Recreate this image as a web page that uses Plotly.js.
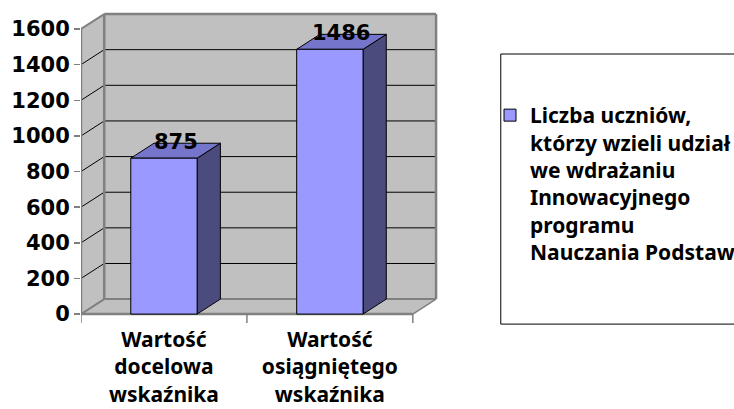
<!DOCTYPE html>
<html>
<head>
<meta charset="utf-8">
<script src="https://cdn.plot.ly/plotly-3.0.1.min.js"></script>
<style>html,body{margin:0;padding:0;background:#fff}#chart{width:734px;height:409px}</style>
</head>
<body>
<div id="chart"></div>
<script>
// ---- data ----
const categories = ['Wartość<br>docelowa<br>wskaźnika', 'Wartość<br>osiągniętego<br>wskaźnika'];
const values = [875, 1486];
const seriesName = 'Liczba uczniów,<br>którzy wzieli udział<br>we wdrażaniu<br>Innowacyjnego<br>programu<br>Nauczania Podstaw';
const yTickVals = [0, 200, 400, 600, 800, 1000, 1200, 1400, 1600];

// ---- geometry / style ----
const NUMFONT = 'DejaVu Sans, sans-serif';
const TXTFONT = 'Noto Sans, Open Sans, sans-serif';
const W = 734, H = 409;
const L = 81, T = 10;
const XR = [-0.5, 1.7];
const PX_X = 166;            // px per category unit
const PX_Y = 285 / 1600;     // px per value unit
const YR = [-50, (314 - T) / PX_Y];
const plotW = (XR[1] - XR[0]) * PX_X;
const plotH = (YR[1] - YR[0]) * PX_Y;
const R = W - L - plotW;
const B = H - T - plotH;
const DX = 0.14, DY = 84;    // depth offset
const YMAX = yTickVals[yTickVals.length - 1];
const BW = 0.4;
const WALL = '#c0c0c0', EDGE = '#808080';
const xs = values.map((v, i) => i);
const x0 = XR[0], x1 = xs.length - 0.5;

const shapes = [];
const poly = (pts, fill, lineColor, lw) => shapes.push({
  type: 'path', xref: 'x', yref: 'y', layer: 'below',
  path: 'M' + pts.map(p => p[0] + ',' + p[1]).join('L') + 'Z',
  fillcolor: fill, line: {color: lineColor, width: lw}
});
const seg = (a, b, color, lw) => shapes.push({
  type: 'line', xref: 'x', yref: 'y', layer: 'below',
  x0: a[0], y0: a[1], x1: b[0], y1: b[1], line: {color: color, width: lw}
});

// walls
poly([[x0 + DX, DY], [x0 + DX, YMAX + DY], [x1 + DX, YMAX + DY], [x1 + DX, DY]], WALL, 'rgba(0,0,0,0)', 0);
poly([[x0, 0], [x0, YMAX], [x0 + DX, YMAX + DY], [x0 + DX, DY]], WALL, 'rgba(0,0,0,0)', 0);
poly([[x0, 0], [x0 + DX, DY], [x1 + DX, DY], [x1, 0]], WALL, 'rgba(0,0,0,0)', 0);
// gridlines
yTickVals.forEach(v => {
  if (v > 0 && v < YMAX) {
    seg([x0 + DX, v + DY], [x1 + DX, v + DY], '#000', 1);
    seg([x0, v], [x0 + DX, v + DY], '#000', 1);
  }
});
// edges
seg([x0 + DX, DY], [x1 + DX, DY], EDGE, 2);
seg([x0 + DX, YMAX + DY], [x1 + DX, YMAX + DY], EDGE, 2.5);
seg([x0 + DX, DY], [x0 + DX, YMAX + DY], EDGE, 2.5);
seg([x1 + DX, DY], [x1 + DX, YMAX + DY], EDGE, 2.5);
seg([x0, 0], [x0, YMAX], EDGE, 2.5);
seg([x0, YMAX], [x0 + DX, YMAX + DY], EDGE, 2);
seg([x0, 0], [x0 + DX, DY], EDGE, 2);
seg([x0, 0], [x1, 0], EDGE, 2.5);
seg([x1, 0], [x1 + DX, DY], EDGE, 1.5);
// category tick marks
for (let k = 0; k <= xs.length; k++) seg([x0 + k, 0], [x0 + k, YR[0]], EDGE, 1.5);
// bar top and side faces
values.forEach((v, i) => {
  const a = i - BW / 2, b = i + BW / 2;
  poly([[b, 0], [b + DX, DY], [b + DX, v + DY], [b, v]], '#4b4b7e', '#000', 1);
  poly([[a, v], [a + DX, v + DY], [b + DX, v + DY], [b, v]], '#7575cc', '#000', 1);
});
// legend frame
shapes.push({
  type: 'rect', xref: 'paper', yref: 'paper', layer: 'above',
  x0: (501 - L) / plotW, x1: (745 - L) / plotW,
  y0: (T + plotH - 324) / plotH, y1: (T + plotH - 54) / plotH,
  line: {color: '#000', width: 1}, fillcolor: 'rgba(0,0,0,0)'
});

const annotations = values.map((v, i) => ({
  x: i + DX / 2, y: v + DY / 2, xref: 'x', yref: 'y',
  text: String(v), showarrow: false, xanchor: 'center', yanchor: 'bottom',
  yshift: -5, font: {family: NUMFONT, size: 21, weight: 'bold', color: '#000'}
}));

const trace = {
  type: 'bar', x: xs, y: values, width: BW, name: seriesName,
  marker: {color: '#9999ff', line: {color: '#000', width: 1}},
  showlegend: true, hoverinfo: 'skip'
};

const layout = {
  width: W, height: H,
  margin: {l: L, r: R, t: T, b: B, pad: 0},
  paper_bgcolor: '#fff', plot_bgcolor: '#fff',
  showlegend: true,
  xaxis: {
    range: XR, tickvals: xs, ticktext: categories, ticks: '', showgrid: false,
    zeroline: false, showline: false, ticklabelstandoff: 2,
    tickfont: {family: TXTFONT, size: 21, weight: 'bold', color: '#000'}
  },
  yaxis: {
    range: YR, tickvals: yTickVals, ticks: 'outside', ticklen: 6, tickcolor: EDGE, tickwidth: 1.5,
    showgrid: false, zeroline: false, showline: false,
    tickfont: {family: NUMFONT, size: 21, weight: 'bold', color: '#000'}
  },
  legend: {
    xref: 'container', yref: 'container', x: 490 / W, y: 1 - 95 / H,
    xanchor: 'left', yanchor: 'top', valign: 'top',
    bgcolor: 'rgba(0,0,0,0)', borderwidth: 0,
    font: {family: TXTFONT, size: 21, weight: 'bold', color: '#000'}
  },
  shapes: shapes,
  annotations: annotations
};

Plotly.newPlot('chart', [trace], layout, {displayModeBar: false, staticPlot: true});
</script>
</body>
</html>
